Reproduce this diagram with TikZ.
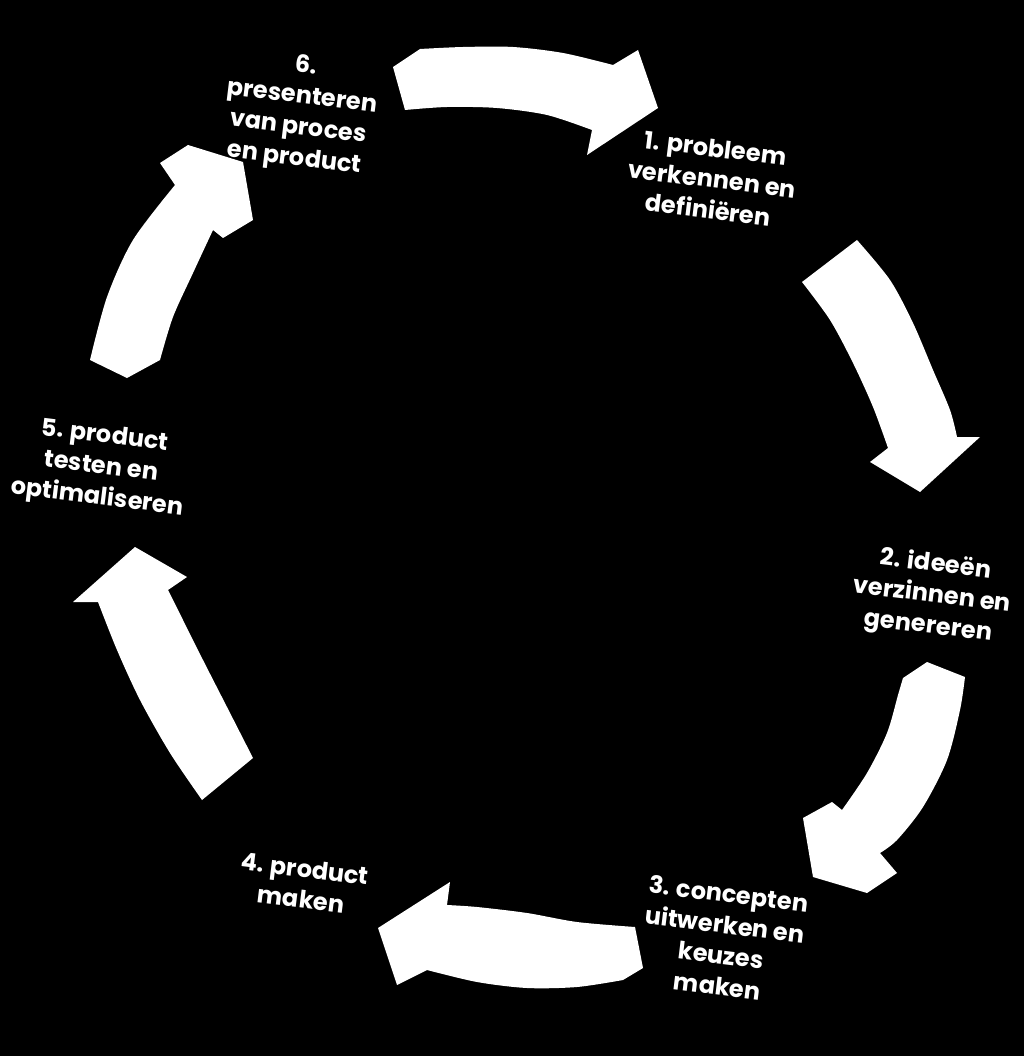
\documentclass[tikz,border=0pt]{standalone}
\usepackage{fontspec}
\setmainfont{Poppins}
\begin{document}
\begin{tikzpicture}[x=1pt,y=-1pt]
\tikzset{
  blockarrow/.style={fill=white},
  lbl/.style={text=white, font=\fontsize{24}{31}\selectfont\bfseries, align=center, rotate=-7, inner sep=0pt}
}
\fill[black] (0,0) rectangle (1024,1056);
\useasboundingbox (0,0) rectangle (1024,1056);

% arrow 6 -> 1 (top)
\fill[blockarrow] plot[smooth] coordinates {(420,49) (463,47) (513,47) (563,53) (613,65)} -- (638,50) -- (658,108) -- (587,155) -- plot[smooth] coordinates {(592,130) (547,115) (497,108) (447,107) (405,110)} -- (393,67) -- cycle;
% arrow 1 -> 2
\fill[blockarrow] plot[smooth] coordinates {(857,240) (890,280) (913,323) (933,370) (950,410) (957,437)} -- (980,437) -- (920,492) -- (870,462) -- plot[smooth] coordinates {(888,448) (873,407) (853,363) (830,320) (802,282)} -- cycle;
% arrow 2 -> 3
\fill[blockarrow] plot[smooth] coordinates {(965,677) (960,710) (947,760) (923,807) (897,840) (880,853)} -- (897,873) -- (867,893) -- (813,877) -- (803,818) -- (832,802) -- plot[smooth] coordinates {(842,810) (867,773) (887,733) (898,695) (903,678)} -- (927,662) -- cycle;
% arrow 3 -> 4
\fill[blockarrow] plot[smooth] coordinates {(635,927) (577,922) (527,913) (477,907) (447,905)} -- (450,882) -- (378,928) -- (397,985) -- plot[smooth] coordinates {(427,970) (477,982) (527,988) (577,987) (623,980)} -- (643,968) -- cycle;
% arrow 4 -> 5
\fill[blockarrow] plot[smooth] coordinates {(253,758) (227,707) (203,660) (183,620) (168,590)} -- (187,577) -- (135,547) -- (73,602) -- plot[smooth] coordinates {(98,602) (117,650) (140,700) (170,753) (202,800)} -- cycle;
% arrow 5 -> 6
\fill[blockarrow] plot[smooth] coordinates {(90,360) (107,297) (133,240) (175,185)} -- (160,163) -- (188,145) -- (243,162) -- (253,220) -- (223,238) -- plot[smooth] coordinates {(213,230) (193,273) (173,317) (160,360)} -- (127,378) -- cycle;

\node[lbl] (s6) at (300,113) {6.\\presenteren\\van proces\\en product};
\node[lbl] (s1) at (712,179) {1. probleem\\verkennen en\\definiëren};
\node[lbl] (s2) at (932,596) {2. ideeën\\verzinnen en\\genereren};
\node[lbl] (s3) at (723,940) {3. concepten\\uitwerken en\\keuzes\\maken};
\node[lbl] (s4) at (303,884) {4. product\\maken};
\node[lbl] (s5) at (101,468) {5. product\\testen en\\optimaliseren};
\end{tikzpicture}
\end{document}
